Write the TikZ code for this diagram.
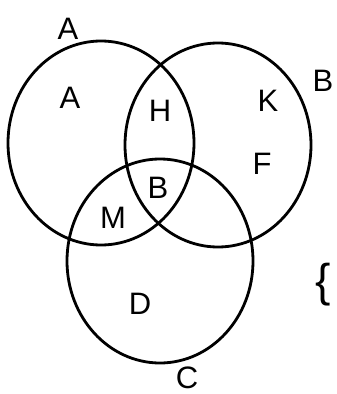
\documentclass[tikz,border=0pt]{standalone}
\usepackage{fontspec}
\setmainfont{Liberation Sans}
\usepackage{tikz}
\usetikzlibrary{shapes.geometric}

\begin{document}
\begin{tikzpicture}[
    x=1pt, y=-1pt,
    ring/.style={ellipse, draw=black, line width=2.8pt, minimum width=186pt, minimum height=204pt, inner sep=0pt},
    lbl/.style={font=\fontsize{31}{31}\selectfont, inner sep=0pt}
]
    \useasboundingbox (0,0) rectangle (337,394);

    % the three sets
    \node[ring] (setA) at (101,143) {};
    \node[ring] (setB) at (218,145) {};
    \node[ring] (setC) at (160,261) {};

    % set names
    \node[lbl] (nameA) at (68,29) {A};
    \node[lbl] (nameB) at (323,81) {B};
    \node[lbl] (nameC) at (187,378) {C};

    % regions
    \node[lbl] (rA) at (70,98) {A};
    \node[lbl] (rH) at (160,111) {H};
    \node[lbl] (rK) at (268,101) {K};
    \node[lbl] (rF) at (262,164) {F};
    \node[lbl] (rB) at (158,188) {B};
    \node[lbl] (rM) at (113,218) {M};
    \node[lbl] (rD) at (140,304) {D};

    \node[lbl, font=\fontsize{46}{46}\selectfont] (brace) at (323,285) {\{};
\end{tikzpicture}
\end{document}
